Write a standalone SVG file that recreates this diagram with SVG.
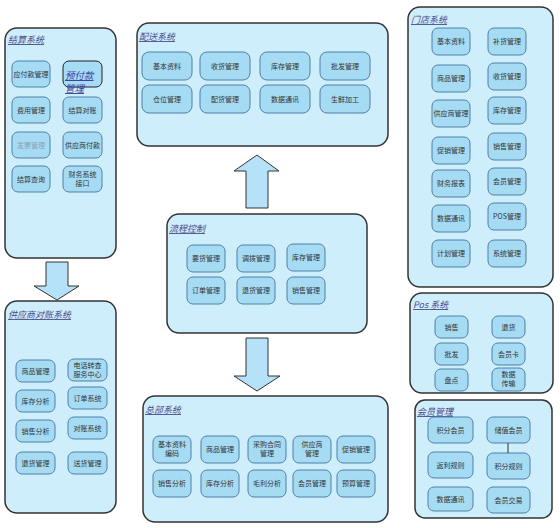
<svg xmlns="http://www.w3.org/2000/svg" width="560" height="528" viewBox="0 0 560 528">
<style>
.panel{fill:#cfeefb;stroke:#333;stroke-width:1.5}
.box{fill:#a5dbf3;stroke:#4f7fa8;stroke-width:1}
.t{font-family:"Noto Sans CJK SC","Noto Sans",sans-serif;font-size:7px;fill:#333;text-anchor:middle}
.title{font-family:"Noto Sans CJK SC",sans-serif;font-style:italic;text-decoration:underline;font-size:9px;fill:#4a4a8c}
.arrow{fill:#b5e2f8;stroke:#333;stroke-width:1}
.conn{stroke:#333;stroke-width:1;fill:none}
</style>
<rect width="560" height="528" fill="#fff"/>

<g id="jiesuan">
<rect class="panel" x="5" y="28" width="111" height="230" rx="12"/>
<text class="title" x="8" y="43">结算系统</text>
<rect class="box" x="12" y="61" width="38" height="26" rx="6"/><text class="t" x="31" y="76.5">应付款管理</text>
<rect class="box" x="63" y="61" width="39" height="26" rx="6" style="stroke:#222"/>
<text x="65" y="79" style="font-family:'Noto Sans CJK SC',sans-serif;font-style:italic;text-decoration:underline;font-size:9.5px;fill:#3d3d9e">预付款</text>
<text x="65" y="92" style="font-family:'Noto Sans CJK SC',sans-serif;font-style:italic;text-decoration:underline;font-size:9.5px;fill:#3d3d9e">管理</text>
<rect class="box" x="12" y="97" width="38" height="26" rx="6"/><text class="t" x="31" y="112.5">费用管理</text>
<rect class="box" x="63" y="97" width="39" height="26" rx="6"/><text class="t" x="82.5" y="112.5">结算对账</text>
<rect class="box" x="12" y="132" width="38" height="26" rx="6"/><text class="t" x="31" y="147.5" style="fill:#8aa4b4">发票管理</text>
<rect class="box" x="63" y="132" width="39" height="26" rx="6"/><text class="t" x="82.5" y="147.5">供应商付款</text>
<rect class="box" x="12" y="166" width="38" height="26" rx="6"/><text class="t" x="31" y="181.5">结算查询</text>
<rect class="box" x="63" y="166" width="39" height="26" rx="6"/><text class="t" x="82.5" y="177">财务系统</text><text class="t" x="82.5" y="186">接口</text>
</g>

<g id="gongyingshang">
<rect class="panel" x="5" y="301" width="111" height="212" rx="12"/>
<text class="title" x="8" y="318">供应商对账系统</text>
<rect class="box" x="16" y="360" width="39" height="22" rx="6"/><text class="t" x="35.5" y="373.5">商品管理</text>
<rect class="box" x="68" y="359" width="39" height="22" rx="6"/><text class="t" x="87.5" y="368">电话转查</text><text class="t" x="87.5" y="377">服务中心</text>
<rect class="box" x="16" y="390" width="39" height="22" rx="6"/><text class="t" x="35.5" y="403.5">库存分析</text>
<rect class="box" x="68" y="387" width="39" height="22" rx="6"/><text class="t" x="87.5" y="400.5">订单系统</text>
<rect class="box" x="16" y="420" width="39" height="22" rx="6"/><text class="t" x="35.5" y="433.5">销售分析</text>
<rect class="box" x="68" y="417" width="39" height="22" rx="6"/><text class="t" x="87.5" y="430.5">对账系统</text>
<rect class="box" x="16" y="452" width="39" height="22" rx="6"/><text class="t" x="35.5" y="465.5">退货管理</text>
<rect class="box" x="68" y="452" width="39" height="22" rx="6"/><text class="t" x="87.5" y="465.5">送货管理</text>
</g>

<g id="peisong">
<rect class="panel" x="137" y="23" width="251" height="123" rx="12"/>
<text class="title" x="139" y="40">配送系统</text>
<rect class="box" x="142" y="52" width="50" height="28" rx="7"/><text class="t" x="167" y="68.5">基本资料</text>
<rect class="box" x="200" y="52" width="50" height="28" rx="7"/><text class="t" x="225" y="68.5">收货管理</text>
<rect class="box" x="260" y="52" width="50" height="28" rx="7"/><text class="t" x="285" y="68.5">库存管理</text>
<rect class="box" x="320" y="52" width="50" height="28" rx="7"/><text class="t" x="345" y="68.5">批发管理</text>
<rect class="box" x="142" y="85" width="50" height="28" rx="7"/><text class="t" x="167" y="101.5">仓位管理</text>
<rect class="box" x="200" y="85" width="50" height="28" rx="7"/><text class="t" x="225" y="101.5">配货管理</text>
<rect class="box" x="260" y="85" width="50" height="28" rx="7"/><text class="t" x="285" y="101.5">数据通讯</text>
<rect class="box" x="320" y="85" width="50" height="28" rx="7"/><text class="t" x="345" y="101.5">生鲜加工</text>
</g>

<g id="liucheng">
<rect class="panel" x="167" y="214" width="200" height="119" rx="12"/>
<text class="title" x="169" y="232">流程控制</text>
<rect class="box" x="187" y="245" width="38" height="27" rx="6"/><text class="t" x="206" y="261">要货管理</text>
<rect class="box" x="237" y="245" width="38" height="27" rx="6"/><text class="t" x="256" y="261">调拨管理</text>
<rect class="box" x="287" y="244" width="38" height="27" rx="6"/><text class="t" x="306" y="260">库存管理</text>
<rect class="box" x="187" y="277" width="38" height="27" rx="6"/><text class="t" x="206" y="293">订单管理</text>
<rect class="box" x="237" y="277" width="38" height="27" rx="6"/><text class="t" x="256" y="293">退货管理</text>
<rect class="box" x="287" y="277" width="38" height="27" rx="6"/><text class="t" x="306" y="293">销售管理</text>
</g>

<g id="zongbu">
<rect class="panel" x="143" y="396" width="245" height="126" rx="12"/>
<text class="title" x="145" y="413">总部系统</text>
<rect class="box" x="153" y="436" width="38" height="27" rx="6"/><text class="t" x="172" y="447">基本资料</text><text class="t" x="172" y="456">编码</text>
<rect class="box" x="201" y="436" width="38" height="27" rx="6"/><text class="t" x="220" y="452">商品管理</text>
<rect class="box" x="248" y="436" width="38" height="27" rx="6"/><text class="t" x="267" y="447">采购合同</text><text class="t" x="267" y="456">管理</text>
<rect class="box" x="293" y="436" width="38" height="27" rx="6"/><text class="t" x="312" y="447">供应商</text><text class="t" x="312" y="456">管理</text>
<rect class="box" x="337" y="436" width="38" height="27" rx="6"/><text class="t" x="356" y="452">促销管理</text>
<rect class="box" x="153" y="470" width="38" height="27" rx="6"/><text class="t" x="172" y="486">销售分析</text>
<rect class="box" x="201" y="470" width="38" height="27" rx="6"/><text class="t" x="220" y="486">库存分析</text>
<rect class="box" x="248" y="470" width="38" height="27" rx="6"/><text class="t" x="267" y="486">毛利分析</text>
<rect class="box" x="293" y="470" width="38" height="27" rx="6"/><text class="t" x="312" y="486">会员管理</text>
<rect class="box" x="337" y="470" width="38" height="27" rx="6"/><text class="t" x="356" y="486">预算管理</text>
</g>

<g id="mendian">
<rect class="panel" x="408" y="7" width="145" height="280" rx="12"/>
<text class="title" x="411" y="23">门店系统</text>
<rect class="box" x="432" y="28" width="38" height="27" rx="6"/><text class="t" x="451" y="44">基本资料</text>
<rect class="box" x="488" y="28" width="38" height="27" rx="6"/><text class="t" x="507" y="44">补货管理</text>
<rect class="box" x="432" y="65" width="38" height="27" rx="6"/><text class="t" x="451" y="81">商品管理</text>
<rect class="box" x="488" y="63" width="38" height="27" rx="6"/><text class="t" x="507" y="79">收货管理</text>
<rect class="box" x="432" y="100" width="38" height="27" rx="6"/><text class="t" x="451" y="116">供应商管理</text>
<rect class="box" x="488" y="97" width="38" height="27" rx="6"/><text class="t" x="507" y="113">库存管理</text>
<rect class="box" x="432" y="137" width="38" height="27" rx="6"/><text class="t" x="451" y="153">促销管理</text>
<rect class="box" x="488" y="133" width="38" height="27" rx="6"/><text class="t" x="507" y="149">销售管理</text>
<rect class="box" x="432" y="170" width="38" height="27" rx="6"/><text class="t" x="451" y="186">财务报表</text>
<rect class="box" x="488" y="168" width="38" height="27" rx="6"/><text class="t" x="507" y="184">会员管理</text>
<rect class="box" x="432" y="205" width="38" height="27" rx="6"/><text class="t" x="451" y="221">数据通讯</text>
<rect class="box" x="488" y="203" width="38" height="27" rx="6"/><text class="t" x="507" y="219">POS管理</text>
<rect class="box" x="432" y="240" width="38" height="27" rx="6"/><text class="t" x="451" y="256">计划管理</text>
<rect class="box" x="488" y="240" width="38" height="27" rx="6"/><text class="t" x="507" y="256">系统管理</text>
</g>

<g id="pos">
<rect class="panel" x="410" y="293" width="143" height="100" rx="12"/>
<text class="title" x="413" y="308">Pos 系统</text>
<rect class="box" x="435" y="316" width="33" height="22" rx="6"/><text class="t" x="451.5" y="329.5">销售</text>
<rect class="box" x="492" y="316" width="33" height="22" rx="6"/><text class="t" x="508.5" y="329.5">退货</text>
<rect class="box" x="435" y="343" width="33" height="22" rx="6"/><text class="t" x="451.5" y="356.5">批发</text>
<rect class="box" x="492" y="343" width="33" height="22" rx="6"/><text class="t" x="508.5" y="356.5">会员卡</text>
<rect class="box" x="435" y="369" width="33" height="22" rx="6"/><text class="t" x="451.5" y="382.5">盘点</text>
<rect class="box" x="492" y="368" width="33" height="23" rx="6"/><text class="t" x="508.5" y="377">数据</text><text class="t" x="508.5" y="386">传输</text>
</g>

<g id="huiyuan">
<rect class="panel" x="415" y="400" width="137" height="118" rx="10"/>
<text class="title" x="417" y="415">会员管理</text>
<rect class="box" x="428" y="417" width="45" height="26" rx="6"/><text class="t" x="450.5" y="432.5">积分会员</text>
<rect class="box" x="487" y="417" width="43" height="26" rx="6"/><text class="t" x="508.5" y="432.5">储值会员</text>
<rect class="box" x="428" y="452" width="45" height="26" rx="6"/><text class="t" x="450.5" y="467.5">返利规则</text>
<rect class="box" x="487" y="453" width="43" height="26" rx="6"/><text class="t" x="508.5" y="468.5">积分规则</text>
<rect class="box" x="428" y="487" width="45" height="24" rx="6"/><text class="t" x="450.5" y="501.5">数据通讯</text>
<rect class="box" x="487" y="487" width="43" height="26" rx="6"/><text class="t" x="508.5" y="502.5">会员交易</text>
</g>

<g id="connectors">
<polygon class="arrow" points="46,262 68,262 68,286 79,286 57,300 34,286 46,286"/>
<polygon class="arrow" points="246,208 268,208 268,171 279,171 257,155 234,171 246,171"/>
<polygon class="arrow" points="246,338 268,338 268,376 280,376 257,391 234,376 246,376"/>
<line class="conn" x1="508" y1="443" x2="508" y2="453"/>
</g>
</svg>
